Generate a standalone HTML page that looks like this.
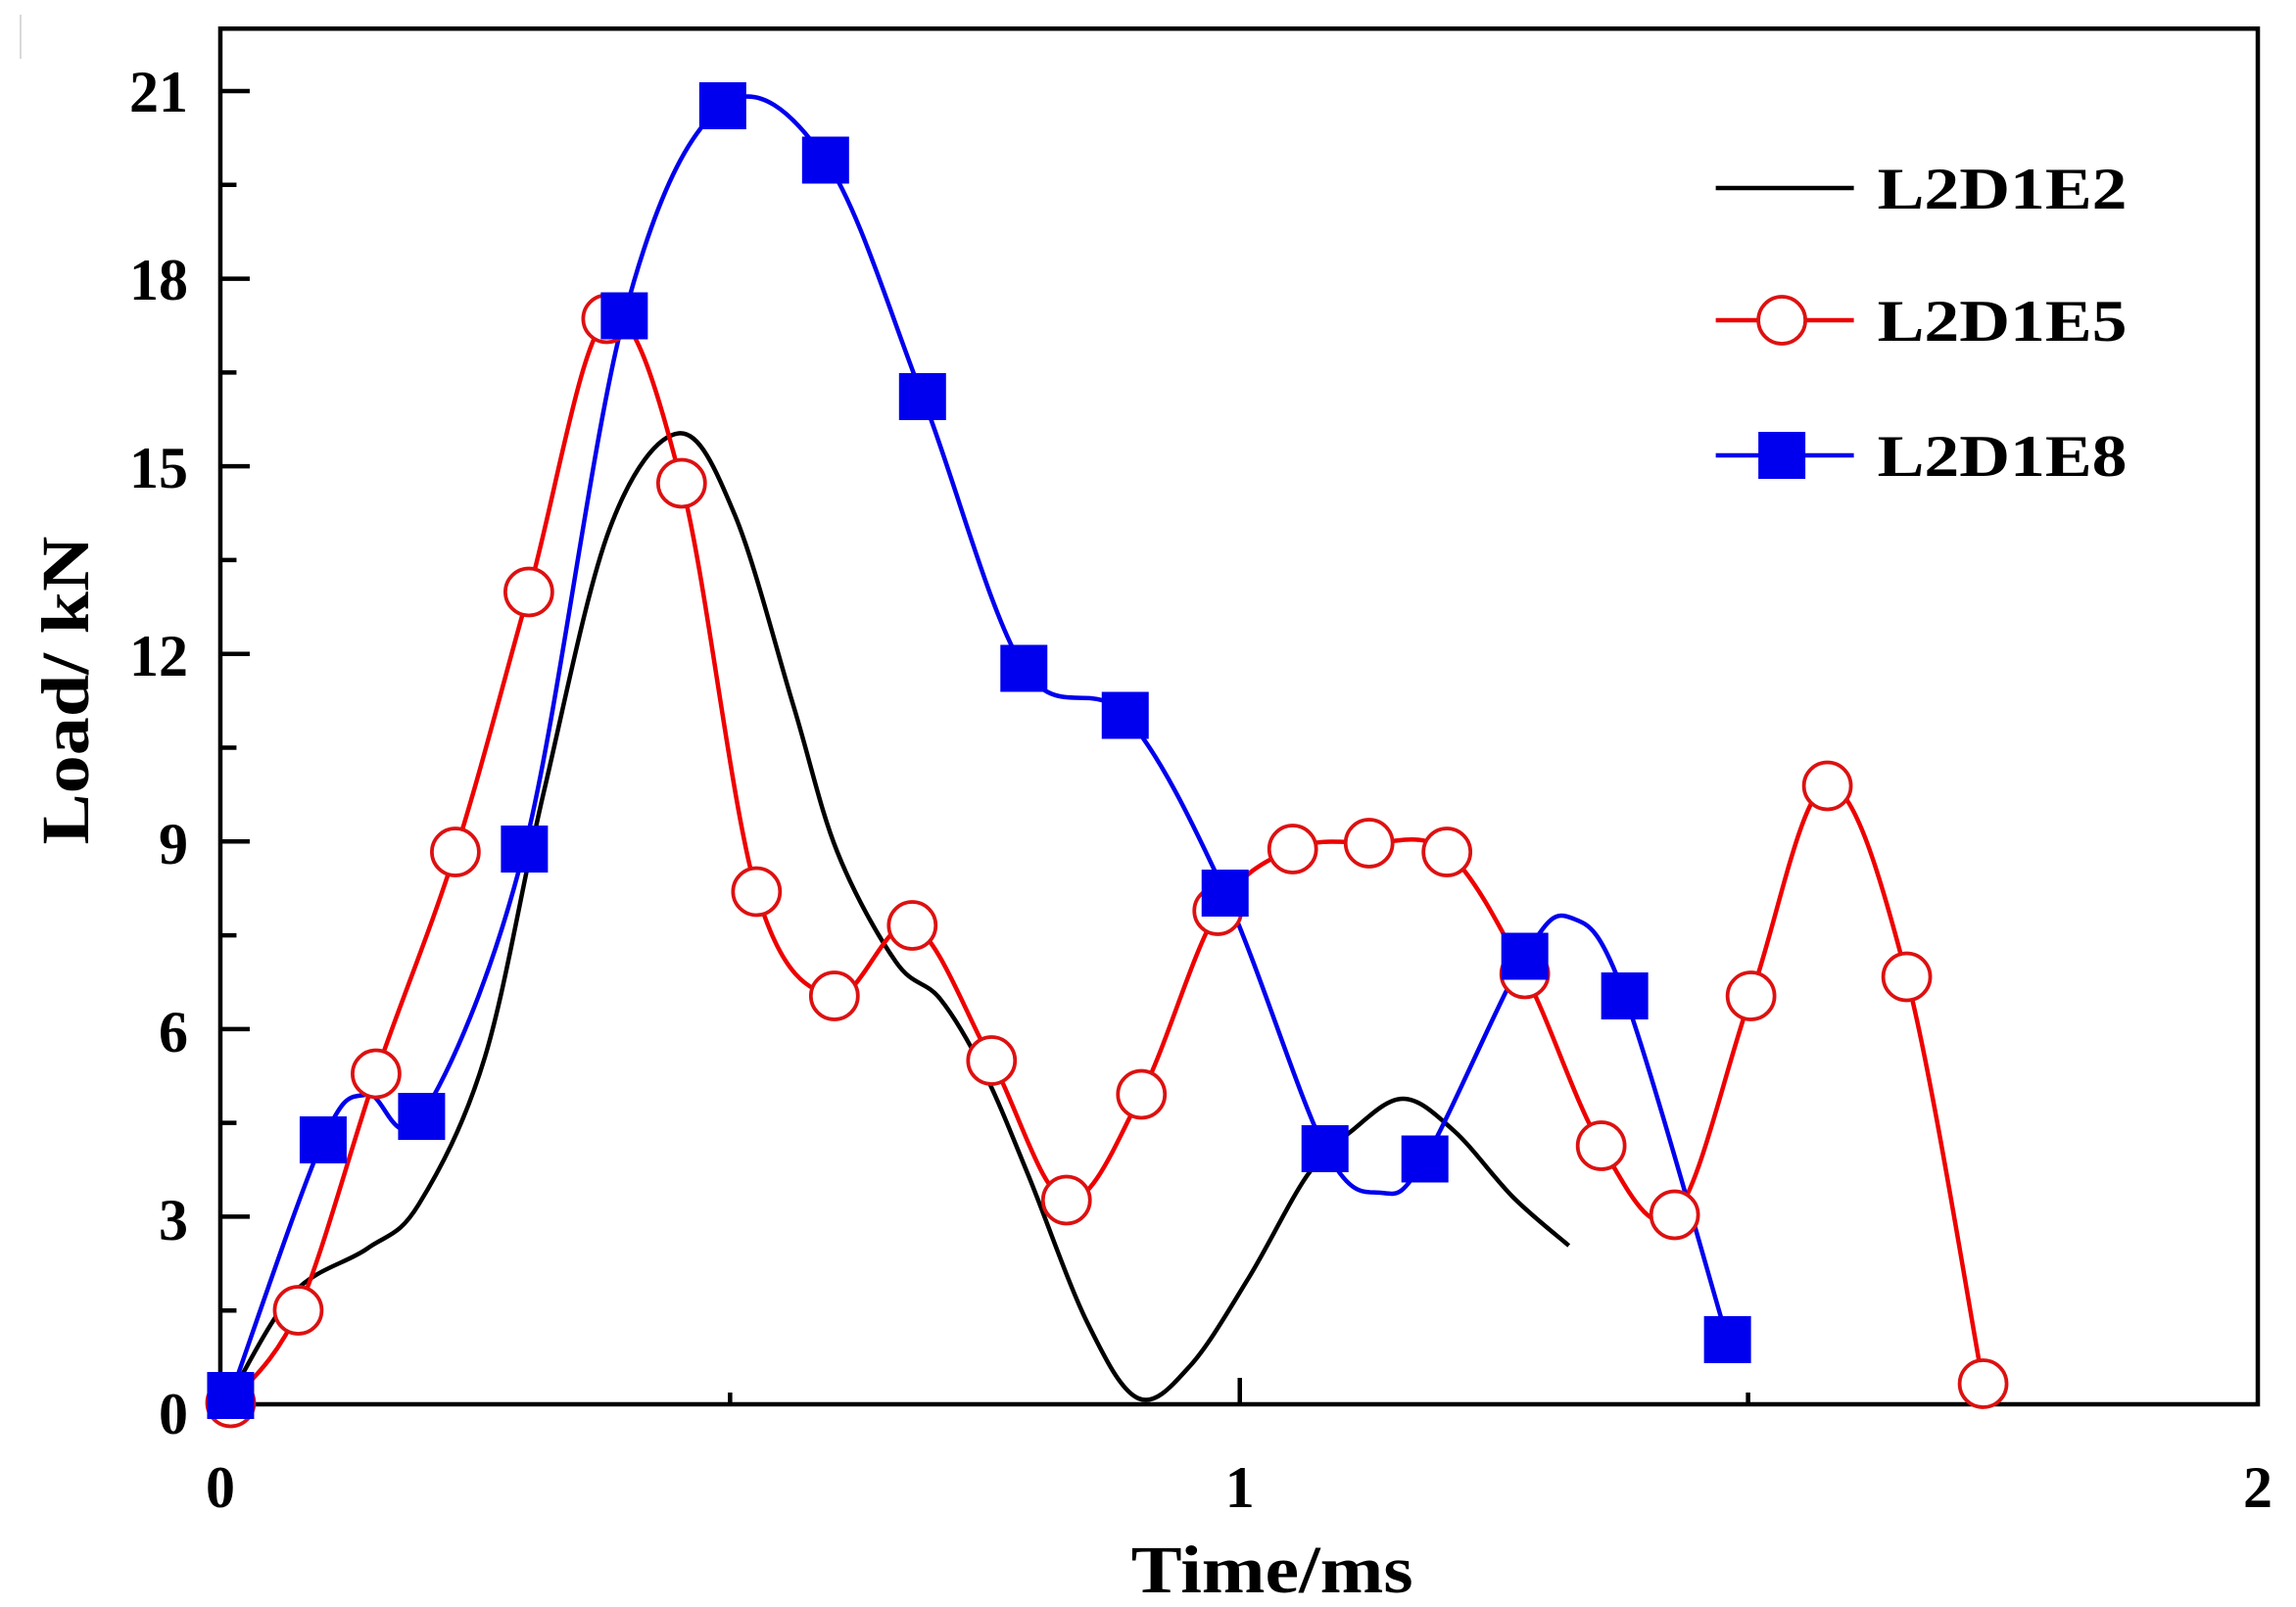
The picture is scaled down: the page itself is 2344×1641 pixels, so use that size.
<!DOCTYPE html>
<html><head><meta charset="utf-8"><style>
html,body{margin:0;padding:0;background:#fff;}
svg{display:block;}
text{font-family:"Liberation Serif",serif;font-weight:bold;fill:#000;}
</style></head><body>
<svg id="s" width="2344" height="1641" viewBox="0 0 1563 1094" preserveAspectRatio="none" xmlns="http://www.w3.org/2000/svg">
<rect width="1563" height="1094" fill="#fff"/>
<line x1="14" y1="10" x2="14" y2="40" stroke="#ccc" stroke-width="1"/>
<rect x="150" y="19.5" width="1387" height="936.5" fill="none" stroke="#000" stroke-width="3"/>
<g id="ticks" stroke="#000" stroke-width="3"></g>
<g font-size="40" text-anchor="end">
<text x="128" y="76">21</text><text x="128" y="204">18</text><text x="128" y="332">15</text>
<text x="128" y="460">12</text><text x="128" y="588">9</text><text x="128" y="716">6</text>
<text x="128" y="844">3</text><text x="128" y="976">0</text>
</g>
<g font-size="40" text-anchor="middle">
<text x="150" y="1026">0</text><text x="844" y="1026">1</text><text x="1537" y="1026">2</text>
</g>
<text x="770" y="1084" font-size="46" textLength="192" lengthAdjust="spacingAndGlyphs">Time/ms</text>
<text transform="translate(60,575) rotate(-90)" font-size="46" textLength="210" lengthAdjust="spacingAndGlyphs">Load/ kN</text>
<g id="series"></g>
<g font-size="40">
<line x1="1168" y1="128" x2="1262" y2="128" stroke="#000" stroke-width="3"/>
<text x="1278" y="142" textLength="170" lengthAdjust="spacingAndGlyphs">L2D1E2</text>
<line x1="1168" y1="218" x2="1262" y2="218" stroke="#e00" stroke-width="3"/>
<circle cx="1213" cy="218" r="16" fill="#fff" stroke="#d11" stroke-width="2.5"/>
<text x="1278" y="232" textLength="170" lengthAdjust="spacingAndGlyphs">L2D1E5</text>
<line x1="1168" y1="310" x2="1262" y2="310" stroke="#00e" stroke-width="3"/>
<rect x="1197" y="294" width="32" height="32" fill="#00e"/>
<text x="1278" y="324" textLength="170" lengthAdjust="spacingAndGlyphs">L2D1E8</text>
</g>
</svg>
<script>
var NS="http://www.w3.org/2000/svg";
function el(t,a,p){var e=document.createElementNS(NS,t);for(var k in a)e.setAttribute(k,a[k]);p.appendChild(e);return e;}
var tk=document.getElementById('ticks');
for(var i=0;i<=14;i++){var y=956-i*63.857;if(i==0)continue;var L=(i%2==0)?20:11;el('line',{x1:150,y1:y,x2:150+L,y2:y},tk);}
[[497,8],[844,18],[1190,8]].forEach(function(t){el('line',{x1:t[0],y1:956,x2:t[0],y2:956-t[1]},tk);});
function cr(p){var d="M"+p[0][0]+","+p[0][1];for(var i=0;i<p.length-1;i++){var p0=p[i-1]||p[i],p1=p[i],p2=p[i+1],p3=p[i+2]||p2;
d+=" C"+(p1[0]+(p2[0]-p0[0])/6)+","+(p1[1]+(p2[1]-p0[1])/6)+" "+(p2[0]-(p3[0]-p1[0])/6)+","+(p2[1]-(p3[1]-p1[1])/6)+" "+p2[0]+","+p2[1];}return d;}
var g=document.getElementById('series');
var black=[[157,950],[200,880],[250,850],[285,820],[330,720],[370,540],[415,360],[462,295],[500,350],[540,480],[570,580],[610,655],[640,680],[670,730],[700,800],[740,900],[775,952],[810,930],[850,870],[890,800],[920,770],[955,748],[990,770],[1030,815],[1068,848]];
el('path',{d:cr(black),fill:'none',stroke:'#000','stroke-width':3},g);
var red=[[157,955],[203,892],[256,731],[310,580],[360,403],[413,217],[464,329],[515,607],[568,678],[621,630],[675,722],[726,817],[777,745],[829,620],[880,578],[932,574],[985,580],[1038,663],[1090,780],[1140,827],[1192,678],[1244,535],[1298,665],[1350,942]];
el('path',{d:cr(red),fill:'none',stroke:'#e00','stroke-width':3},g);
var blueM=[[157,950],[220,776],[287,760],[357,578],[425,215],[492,72],[562,109],[628,270],[697,455],[766,487],[834,608],[902,782],[970,789],[1038,651],[1106,678],[1176,912]];
var blueC=[[157,950],[220,776],[250,745],[287,760],[357,578],[425,215],[492,72],[562,109],[628,270],[697,455],[766,487],[834,608],[902,782],[940,812],[970,789],[1038,651],[1070,625],[1106,678],[1176,912]];
el('path',{d:cr(blueC),fill:'none',stroke:'#00e','stroke-width':3},g);
red.forEach(function(p){el('circle',{cx:p[0],cy:p[1],r:16,fill:'#fff',stroke:'#d11','stroke-width':2.5},g);});
blueM.forEach(function(p){el('rect',{x:p[0]-16,y:p[1]-16,width:32,height:32,fill:'#00e'},g);});
</script>
</body></html>
